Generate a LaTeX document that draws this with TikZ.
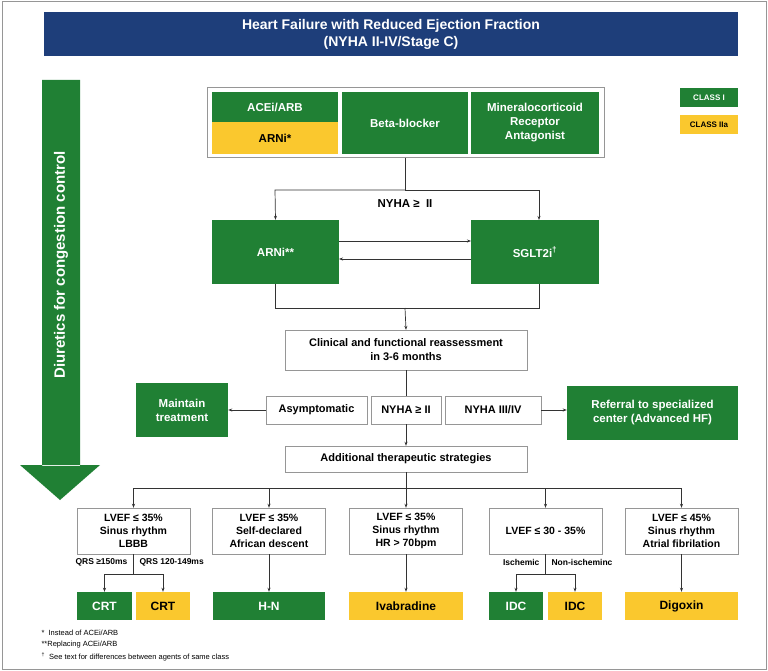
\documentclass[tikz,border=0pt]{standalone}
\usepackage{fontspec}
\setmainfont{Liberation Sans}
\usetikzlibrary{arrows.meta}
\definecolor{gr}{RGB}{32,128,52}
\definecolor{ye}{RGB}{250,200,46}
\definecolor{nv}{RGB}{30,62,122}
\definecolor{bd}{RGB}{150,150,150}
\begin{document}
\begin{tikzpicture}[x=1pt,y=-1pt,
 g/.style={fill=gr,text=white,font=\fontsize{11.5}{14}\selectfont\bfseries,align=center},
 yl/.style={fill=ye,text=black,font=\fontsize{11.5}{14}\selectfont\bfseries,align=center},
 wb/.style={draw=bd,fill=white,font=\fontsize{11}{14}\selectfont\bfseries,align=center},
 ln/.style={draw=black!80,line width=0.7pt},
 ar/.style={ln,-{Stealth[length=4pt,width=3pt]}},
 sl/.style={font=\fontsize{8.5}{10}\selectfont\bfseries}]
\useasboundingbox (0,0) rectangle (768,671);
\draw[bd,line width=1pt] (2,2) rectangle (766,669);
% title
\fill[nv] (44,12) rectangle (738,56);
\node[text=white,font=\fontsize{14}{17}\selectfont\bfseries,align=center] (title) at (391,34) {Heart Failure with Reduced Ejection Fraction\\(NYHA II-IV/Stage C)};
% diuretics arrow
\fill[gr] (42,80) rectangle (80,466) (20,465) -- (100,465) -- (60,500) -- cycle;
\node[rotate=90,text=white,font=\fontsize{15}{17}\selectfont\bfseries] (diu) at (61,265) {Diuretics for congestion control};
% legend
\node[g,minimum width=58pt,minimum height=19pt,font=\fontsize{8}{9}\selectfont\bfseries] (c1) at (709,98) {CLASS I};
\node[yl,minimum width=58pt,minimum height=19pt,font=\fontsize{8}{9}\selectfont\bfseries] (c2) at (709,125) {CLASS IIa};
% top group
\draw[bd,line width=1pt,fill=white] (207,88) rectangle (604,158);
\node[g,minimum width=126pt,minimum height=30pt] (acei) at (275,107) {ACEi/ARB};
\node[yl,minimum width=126pt,minimum height=32pt] (arni1) at (275,138) {ARNi*};
\node[g,minimum width=126pt,minimum height=62pt] (bb) at (405,123) {Beta-blocker};
\node[g,minimum width=128pt,minimum height=62pt] (mra) at (535,123) {Mineralocorticoid\\Receptor\\Antagonist};
\coordinate (grp) at (405,158);
% second row
\node[g,minimum width=127pt,minimum height=64pt] (arni2) at (275.5,252) {ARNi**};
\node[g,minimum width=128pt,minimum height=64pt] (sglt) at (535,252) {SGLT2i\textsuperscript{†}};
\draw[ln] (grp) -- (405,190);
\draw[ar] (405,190) -- (275,190) -- (arni2.north);
\draw[ar] (405,190) -- (539,190) -- (539,220);
\node[font=\fontsize{11.5}{13}\selectfont\bfseries] (ny1) at (405,204) {NYHA ≥\ \ II};
\draw[ar] (339,241) -- (471,241);
\draw[ar] (471,259) -- (339,259);
% reassessment
\node[wb,minimum width=242pt,minimum height=40pt] (clin) at (406,350) {Clinical and functional reassessment\\in 3-6 months};
\draw[ln] (275,284) -- (275,308) -- (539,308) -- (539,284);
\draw[ar] (405,308) -- (clin.north);
% third row
\node[wb,minimum width=101pt,minimum height=28pt] (asym) at (316.5,410) {Asymptomatic};
\node[wb,minimum width=70pt,minimum height=28pt] (ny2) at (406,410) {NYHA ≥ II};
\node[wb,minimum width=96pt,minimum height=28pt] (ny3) at (493,410) {NYHA III/IV};
\node[g,minimum width=92pt,minimum height=54pt] (maint) at (182,410) {Maintain\\treatment};
\node[g,minimum width=171pt,minimum height=54pt] (ref) at (652.5,413) {Referral to specialized\\center (Advanced HF)};
\draw[ln] (clin.south) -- (ny2.north);
\draw[ar] (asym.west) -- (maint.east);
\draw[ar] (ny3.east) -- (ref.west |- ny3.east);
\node[wb,minimum width=242pt,minimum height=26pt] (add) at (406,459) {Additional therapeutic strategies};
\draw[ar] (ny2.south) -- (add.north);
% bottom row
\tikzset{bx/.style={wb,minimum width=113pt,minimum height=46pt,font=\fontsize{10.5}{13}\selectfont\bfseries}}
\node[bx] (b1) at (133.5,531) {LVEF ≤ 35\%\\Sinus rhythm\\LBBB};
\node[bx] (b2) at (269,531) {LVEF ≤ 35\%\\Self-declared\\African descent};
\node[bx] (b3) at (406,531) {LVEF ≤ 35\%\\Sinus rhythm\\HR > 70bpm};
\node[bx] (b4) at (545.5,531) {LVEF ≤ 30 - 35\%};
\node[bx] (b5) at (681.5,531) {LVEF ≤ 45\%\\Sinus rhythm\\Atrial fibrilation};
\draw[ln] (add.south) -- (406,488);
\draw[ln] (133.5,488) -- (681.5,488);
\foreach \n in {b1,b2,b3,b4,b5} \draw[ar] (\n.north |- 0,488) -- (\n.north);
% outputs
\tikzset{ob/.style={minimum height=28pt,font=\fontsize{12}{14}\selectfont\bfseries}}
\node[g,ob,minimum width=55pt] (crt1) at (104.5,606) {CRT};
\node[yl,ob,minimum width=54pt] (crt2) at (163,606) {CRT};
\node[g,ob,minimum width=112pt] (hn) at (269,606) {H-N};
\node[yl,ob,minimum width=114pt] (iva) at (406,606) {Ivabradine};
\node[g,ob,minimum width=54pt] (idc1) at (516,606) {IDC};
\node[yl,ob,minimum width=54pt] (idc2) at (575,606) {IDC};
\node[yl,ob,minimum width=113pt] (dig) at (681.5,606) {Digoxin};
\draw[ln] (b1.south) -- (133.5,574);
\draw[ar] (104.5,574) -- (crt1.north);
\draw[ar] (104.5,574) -- (163,574) -- (crt2.north);
\draw[ln] (b4.south) -- (545.5,574);
\draw[ar] (516,574) -- (idc1.north);
\draw[ar] (516,574) -- (575,574) -- (idc2.north);
\draw[ar] (b2.south) -- (hn.north);
\draw[ar] (b3.south) -- (iva.north);
\draw[ar] (b5.south) -- (dig.north);
\node[sl,anchor=east] (q1) at (131,562) {QRS ≥150ms};
\node[sl,anchor=west] (q2) at (136,562) {QRS 120-149ms};
\node[sl,anchor=east] (is) at (543,562) {Ischemic};
\node[sl,anchor=west] (ni) at (548,562) {Non-ischeminc};
% footnotes
\node[anchor=west,font=\fontsize{7.5}{9}\selectfont] (f1) at (38,633) {*\ \ Instead of ACEi/ARB};
\node[anchor=west,font=\fontsize{7.5}{9}\selectfont] (f2) at (38,645) {**Replacing ACEi/ARB};
\node[anchor=west,font=\fontsize{7.5}{9}\selectfont] (f3) at (38,657) {\textsuperscript{†}\ \ See text for differences between agents of same class};
\end{tikzpicture}
\end{document}
